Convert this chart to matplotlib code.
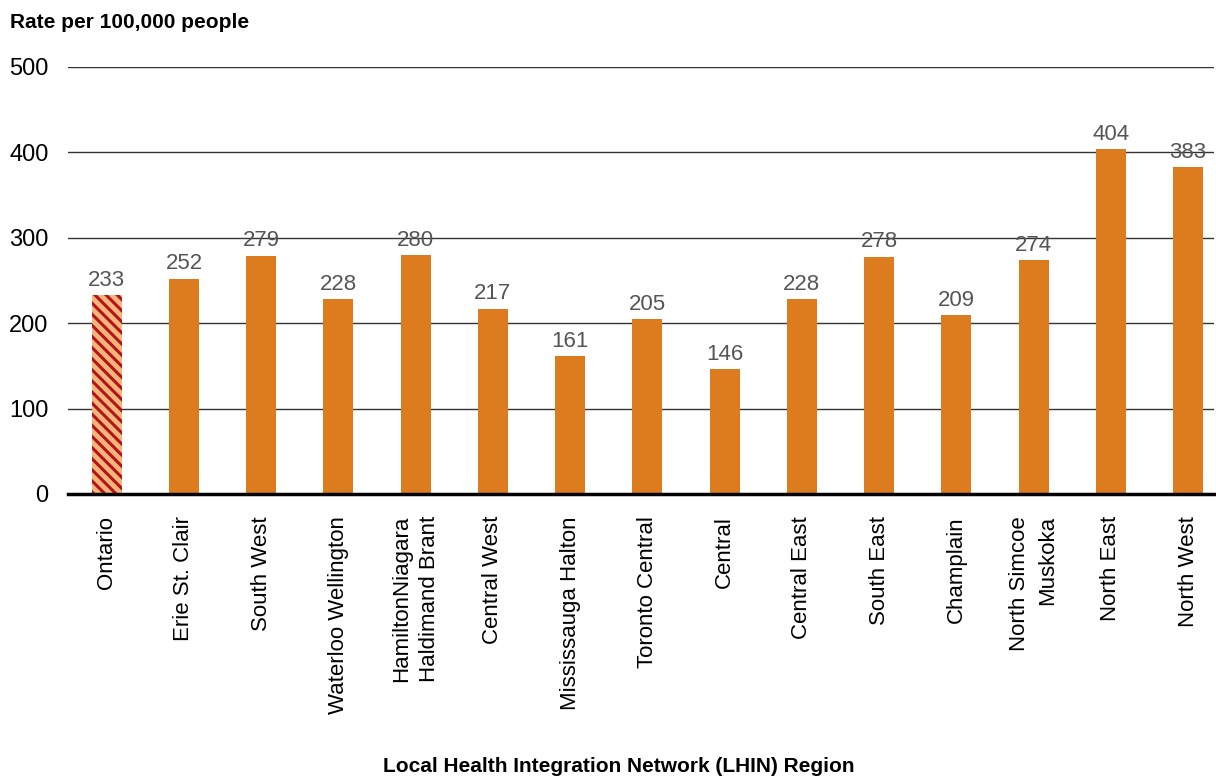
import matplotlib.pyplot as plt

# ---------------------------------------------------
# Data
# ---------------------------------------------------

regions = [
    "Ontario", "Erie St. Clair", "South West", "Waterloo Wellington",
    "HamiltonNiagara\nHaldimand Brant", "Central West", "Mississauga Halton",
    "Toronto Central", "Central", "Central East", "South East", "Champlain",
    "North Simcoe\nMuskoka", "North East", "North West",
]
rates = [233, 252, 279, 228, 280, 217, 161, 205, 146, 228, 278, 209, 274, 404, 383]

ORANGE = "#DC7C1E"
LIGHT_ORANGE = "#F4B57A"
STRIPE = "#B3141C"

plt.rcParams["font.family"] = ["Liberation Sans", "DejaVu Sans"]
plt.rcParams["hatch.linewidth"] = 2.2

fig = plt.figure(figsize=(12.16, 7.79), dpi=100)
ax = fig.add_axes([0.056, 0.366, 0.942, 0.548])

x = list(range(len(regions)))

# Ontario (provincial) bar is hatched, LHIN bars are solid
ax.bar(x[0], rates[0], width=0.39, color=LIGHT_ORANGE, edgecolor=STRIPE,
       hatch="\\\\\\", linewidth=0, zorder=3)
ax.bar(x[1:], rates[1:], width=0.39, color=ORANGE, linewidth=0, zorder=3)

for xi, v in zip(x, rates):
    ax.text(xi, v + 5, str(v), ha="center", va="bottom", fontsize=16,
            color="#555555", zorder=4)

ax.set_xlim(-0.5, 14.33)
ax.set_ylim(0, 500)
ax.set_yticks([0, 100, 200, 300, 400, 500])
ax.yaxis.grid(True, color="#333333", linewidth=1.0, zorder=0)
ax.set_axisbelow(True)

for side in ["top", "right", "left"]:
    ax.spines[side].set_visible(False)
ax.spines["bottom"].set_linewidth(2.5)
ax.spines["bottom"].set_color("black")
ax.spines["bottom"].set_zorder(5)

ax.tick_params(axis="y", length=0, pad=14, labelsize=17)
ax.tick_params(axis="x", length=0, pad=16, labelsize=16)

ax.set_xticks(x)
ax.set_xticklabels(regions, rotation=90, ha="center", va="top",
                   multialignment="right", linespacing=1.45)

fig.text(10 / 1216, 1 - 22 / 779, "Rate per 100,000 people", ha="left",
         va="center", fontsize=15, fontweight="bold")
fig.text(619 / 1216, 1 - 767 / 779,
         "Local Health Integration Network (LHIN) Region", ha="center",
         va="center", fontsize=15, fontweight="bold")

fig.savefig("out.png", dpi=100)
